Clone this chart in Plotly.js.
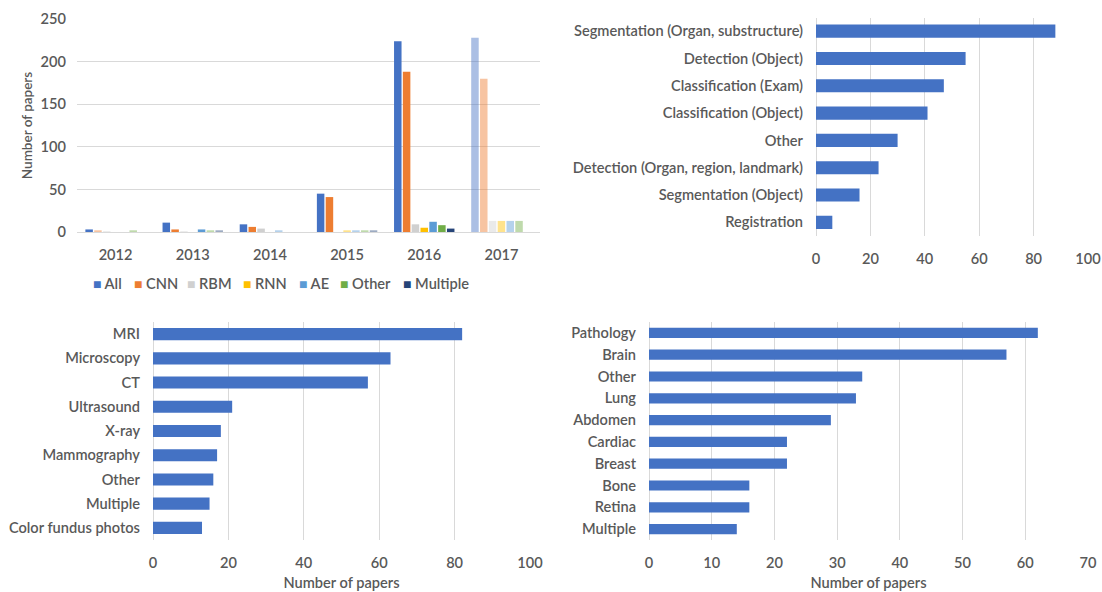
<!DOCTYPE html>
<html><head><meta charset="utf-8">
<script src="https://cdn.plot.ly/plotly-3.0.1.min.js"></script>
<style>html,body{margin:0;padding:0;background:#fff}#c{width:1102px;height:592px}</style>
</head><body><div id="c"></div>
<script>
// ---- Data ----
const years = ['2012','2013','2014','2015','2016','2017'];
const methodNames = ['All','CNN','RBM','RNN','AE','Other','Multiple'];
const methodAll      = [3, 11, 9, 45, 224, 228];
const methodCNN      = [2, 3, 6, 41, 188, 180];
const methodRBM      = [1, 1, 4, 0, 9, 13];
const methodRNN      = [0, 0, 0, 2, 5, 13];
const methodAE       = [0, 3, 2, 2, 12, 13];
const methodOther    = [2, 2, 0, 2, 8, 13];
const methodMultiple = [0, 2, 0, 2, 4, 0];

const taskLabels = ['Segmentation (Organ, substructure)','Detection (Object)','Classification (Exam)','Classification (Object)','Other','Detection (Organ, region, landmark)','Segmentation (Object)','Registration'];
const taskValues = [88, 55, 47, 41, 30, 23, 16, 6];

const modalityLabels = ['MRI','Microscopy','CT','Ultrasound','X-ray','Mammography','Other','Multiple','Color fundus photos'];
const modalityValues = [82, 63, 57, 21, 18, 17, 16, 15, 13];

const areaLabels = ['Pathology','Brain','Other','Lung','Abdomen','Cardiac','Breast','Bone','Retina','Multiple'];
const areaValues = [62, 57, 34, 33, 29, 22, 22, 16, 16, 14];

// ---- Styles ----
const methodColors = ['#4472C4','#ED7D31','#D0D0D0','#FFC000','#5B9BD5','#70AD47','#264478'];
const legendPx = [91, 132, 185, 241, 297, 338, 401];   // legend entry left edges (px)
const fadedYears = ['2017'];
const txt = '#595959';
const grid = '#D9D9D9';
const fam = 'Lato, "Open Sans", sans-serif';
const W = 1102, H = 592;

const methodSeries = [methodAll, methodCNN, methodRBM, methodRNN, methodAE, methodOther, methodMultiple];
const traces = methodSeries.map((vals, i) => ({
  type: 'bar', name: methodNames[i], x: years, y: vals,
  marker: {color: methodColors[i], opacity: years.map((yr, k) => (fadedYears.includes(yr) || vals[k] <= 2) ? 0.45 : 1)},
  xaxis: 'x', yaxis: 'y', showlegend: false
}));
traces.push({type:'bar', orientation:'h', x: taskValues, y: taskLabels, width: 0.48, marker:{color:'#4472C4'}, xaxis:'x2', yaxis:'y2', showlegend:false});
traces.push({type:'bar', orientation:'h', x: modalityValues, y: modalityLabels, width: 0.5, marker:{color:'#4472C4'}, xaxis:'x3', yaxis:'y3', showlegend:false});
traces.push({type:'bar', orientation:'h', x: areaValues, y: areaLabels, width: 0.47, marker:{color:'#4472C4'}, xaxis:'x4', yaxis:'y4', showlegend:false});

const tf = {family: fam, size: 14.6, color: txt, weight: 600};
const catAxis = (dom) => ({domain: dom, autorange: 'reversed', showgrid: false, zeroline: false, showline: false, ticks: '', tickfont: tf, ticklabelstandoff: 12, fixedrange: true});
const valAxis = (dom, range, dtick, titleText) => ({domain: dom, range: range, dtick: dtick, showgrid: true, gridcolor: grid, gridwidth: 1, zeroline: true, zerolinecolor: grid, zerolinewidth: 1, showline: false, ticks: '', tickfont: tf, ticklabelstandoff: 12,
  title: titleText ? {text: titleText, font: tf, standoff: 8} : undefined});

// legend drawn as text entries (colored square + name)
const legendAnn = methodNames.map((n, i) => ({
  xref: 'paper', yref: 'paper', x: legendPx[i] / W, y: 1 - 283 / H, xanchor: 'left', yanchor: 'middle',
  showarrow: false, align: 'left', font: tf,
  text: '<span style="color:' + methodColors[i] + ';font-size:14px">■</span> ' + n
}));

const layout = {
  width: W, height: H, margin: {l:0, r:0, t:0, b:0},
  paper_bgcolor: '#fff', plot_bgcolor: '#fff',
  font: {family: fam, color: txt},
  barmode: 'group', bargap: 0.2, bargroupgap: 0.15,
  showlegend: false,
  annotations: legendAnn,
  xaxis: {domain: [77/W, 540/W], anchor: 'y', type: 'category', showgrid: false, zeroline: false, showline: false, ticks: '', tickfont: tf, ticklabelstandoff: 12},
  yaxis: {domain: [1-232/H, 1-19/H], anchor: 'x', range: [0, 250], dtick: 50, showgrid: true, gridcolor: grid, zeroline: true, zerolinecolor: grid, tickfont: tf, ticklabelstandoff: 10,
    title: {text: 'Number of papers', font: {family: fam, size: 13.5, color: txt, weight: 600}, standoff: 4}},
  xaxis2: Object.assign(valAxis([816/W, 1088/W], [0, 100], 20), {anchor: 'y2'}),
  yaxis2: Object.assign(catAxis([1-236/H, 1-17.5/H]), {anchor: 'x2'}),
  xaxis3: Object.assign(valAxis([153/W, 530/W], [0, 100], 20, 'Number of papers'), {anchor: 'y3'}),
  yaxis3: Object.assign(catAxis([1-540/H, 1-322/H]), {anchor: 'x3'}),
  xaxis4: Object.assign(valAxis([649/W, 1088/W], [0, 70], 10, 'Number of papers'), {anchor: 'y4'}),
  yaxis4: Object.assign(catAxis([1-540/H, 1-322/H]), {anchor: 'x4'})
};
Plotly.newPlot('c', traces, layout, {displayModeBar: false, staticPlot: true});
</script>
</body></html>
